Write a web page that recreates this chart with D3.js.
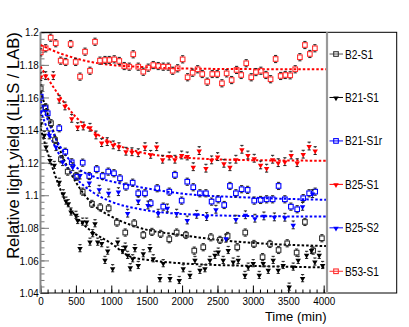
<!DOCTYPE html>
<html><head><meta charset="utf-8">
<script src="https://cdn.jsdelivr.net/npm/d3@7"></script>
<style>
html,body{margin:0;padding:0;background:#fff;}
svg text{font-family:'Liberation Sans',Arial,sans-serif;}
</style></head>
<body><svg id="c" width="409" height="327"></svg>
<script>
// ---- data (time in min, relative light yield) ----
const seriesNames = ["B2-S1","B21-S1","B21-S1r","B25-S1","B25-S2","B53-S1"];
const b2s1 = [[3,1.1656],[73,1.154],[148,1.1442],[205,1.1339],[289,1.1221],[384,1.1145],[501,1.1118],[596,1.1022],[727,1.0947],[844,1.0926],[963,1.092],[1080,1.0832],[1197,1.0771],[1324,1.0828],[1452,1.0756],[1574,1.0775],[1697,1.0763],[1819,1.073],[1923,1.0771],[2054,1.0756],[2172,1.066],[2299,1.0681],[2407,1.0742],[2535,1.0726],[2643,1.075],[2779,1.0681],[2892,1.0771],[3015,1.0701],[3137,1.062],[3241,1.0701],[3363,1.0664],[3485,1.0705],[3618,1.0648],[3735,1.0836],[3852,1.066],[3975,1.0736]];
const b21s1 = [[3,1.1442],[54,1.137],[78,1.1298],[134,1.1216],[195,1.1186],[265,1.1083],[322,1.1012],[360,1.0967],[393,1.0951],[431,1.09],[501,1.088],[525,1.0848],[558,1.0675],[596,1.0838],[652,1.0838],[699,1.0715],[737,1.0767],[770,1.0828],[808,1.0715],[864,1.0706],[911,1.0603],[949,1.066],[1019,1.0552],[1090,1.0715],[1161,1.0664],[1197,1.0685],[1231,1.0634],[1268,1.0558],[1302,1.0613],[1334,1.0675],[1381,1.0572],[1452,1.0644],[1546,1.0675],[1593,1.0613],[1687,1.0491],[1734,1.0583],[1829,1.0491],[1960,1.048],[2016,1.0552],[2111,1.0511],[2182,1.0603],[2252,1.0542],[2323,1.0552],[2393,1.0603],[2464,1.0634],[2511,1.0654],[2581,1.0603],[2652,1.0664],[2722,1.0593],[2793,1.0603],[2888,1.0511],[2934,1.0562],[3005,1.0583],[3090,1.0511],[3146,1.0583],[3217,1.0542],[3287,1.0603],[3358,1.0542],[3428,1.0572],[3513,1.0439],[3570,1.0562],[3640,1.0603],[3702,1.0491],[3759,1.0634],[3829,1.0664],[3876,1.0593],[3937,1.0634],[3985,1.0572]];
const b21s1r = [[3,1.1605],[68,1.1534],[102,1.1503],[265,1.1411],[350,1.1267],[441,1.1202],[520,1.1114],[596,1.12],[689,1.1118],[794,1.116],[878,1.1118],[957,1.1145],[1038,1.1135],[1123,1.1104],[1207,1.1053],[1302,1.1077],[1381,1.1012],[1476,1.1012],[1556,1.0951],[1649,1.1043],[1734,1.093],[1819,1.1022],[1899,1.1125],[1994,1.0967],[2073,1.1083],[2158,1.1049],[2252,1.1012],[2337,1.1012],[2417,1.0961],[2511,1.0975],[2595,1.094],[2676,1.1057],[2760,1.1012],[2841,1.1037],[2926,1.1033],[3019,1.0967],[3109,1.0971],[3194,1.0975],[3279,1.0975],[3363,1.1057],[3452,1.0975],[3537,1.093],[3626,1.0914],[3711,1.0982],[3795,1.1012],[3880,1.1022]];
const b25s1 = [[3,1.1728],[73,1.1734],[181,1.1734],[265,1.1589],[346,1.1548],[441,1.1472],[525,1.1421],[604,1.1425],[699,1.1417],[784,1.137],[864,1.1323],[943,1.1329],[1028,1.1309],[1108,1.1298],[1207,1.127],[1292,1.1267],[1381,1.1261],[1476,1.1298],[1556,1.1251],[1641,1.1298],[1725,1.1221],[1819,1.1241],[1899,1.1221],[1994,1.1247],[2073,1.1241],[2158,1.1175],[2242,1.1274],[2337,1.1166],[2417,1.1217],[2502,1.1237],[2591,1.1196],[2676,1.1175],[2760,1.1221],[2845,1.1282],[2930,1.1247],[3019,1.1227],[3109,1.1186],[3194,1.1166],[3279,1.1221],[3358,1.12],[3452,1.1206],[3541,1.1247],[3626,1.12],[3711,1.1252],[3795,1.1302],[3880,1.1274]];
const b25s2 = [[3,1.1513],[124,1.137],[219,1.1298],[313,1.1206],[455,1.1175],[558,1.1124],[689,1.1077],[830,1.1037],[963,1.1014],[1101,1.1022],[1231,1.089],[1381,1.0967],[1518,1.094],[1663,1.089],[1793,1.0922],[1923,1.089],[2073,1.0848],[2206,1.0883],[2347,1.0869],[2478,1.0914],[2619,1.0736],[2760,1.0853],[2895,1.088],[3029,1.0859],[3156,1.0873],[3304,1.0867],[3452,1.0865],[3570,1.0818],[3702,1.0932],[3843,1.101]];
const b53s1 = [[3,1.1877],[73,1.1902],[144,1.1967],[215,1.1933],[285,1.1826],[356,1.1818],[426,1.1928],[497,1.1818],[558,1.1728],[629,1.1881],[699,1.1764],[770,1.1942],[840,1.1826],[911,1.183],[971,1.183],[1042,1.1834],[1113,1.1824],[1183,1.1793],[1254,1.1789],[1310,1.1865],[1381,1.1789],[1452,1.1758],[1522,1.1783],[1593,1.1799],[1663,1.1793],[1734,1.1789],[1805,1.1789],[1867,1.1764],[1937,1.1779],[2008,1.1834],[2078,1.1724],[2149,1.1752],[2220,1.1773],[2285,1.1744],[2355,1.1697],[2426,1.1744],[2496,1.1744],[2563,1.1687],[2629,1.1748],[2700,1.1707],[2770,1.1769],[2835,1.1738],[2906,1.181],[2977,1.1724],[3043,1.1756],[3113,1.1764],[3184,1.1738],[3250,1.1712],[3321,1.1836],[3392,1.1732],[3457,1.1738],[3527,1.1736],[3598,1.1773],[3664,1.1847],[3735,1.1922],[3805,1.1867],[3876,1.1902]];
// fitted curves
const fitB2s1 = [[0,1.164],[150,1.1435],[300,1.125],[500,1.108],[750,1.094],[1000,1.087],[1400,1.080],[2000,1.0755],[2700,1.0718],[3300,1.070],[4040,1.0688]];
const fitB21s1 = [[0,1.141],[150,1.1195],[336,1.098],[500,1.087],[750,1.077],[1000,1.0705],[1260,1.0625],[1600,1.0598],[2000,1.0582],[3000,1.0566],[4040,1.0557]];
const fitB21s1r = [[0,1.158],[250,1.132],[500,1.1175],[750,1.1115],[1000,1.1085],[1400,1.105],[2000,1.101],[3000,1.0985],[4040,1.0972]];
const fitB25s1 = [[0,1.179],[250,1.162],[500,1.148],[750,1.139],[1000,1.1325],[1400,1.1265],[2000,1.1232],[3000,1.1215],[4040,1.1212]];
const fitB25s2 = [[0,1.152],[150,1.135],[300,1.1223],[500,1.1105],[750,1.1015],[1000,1.096],[1400,1.0915],[2000,1.0885],[3000,1.0872],[4040,1.0869]];
const fitB53s1 = [[0,1.1922],[250,1.1875],[500,1.184],[750,1.1815],[1000,1.180],[1400,1.1788],[2000,1.1778],[3000,1.1774],[4040,1.1773]];
const errHalf = [0.0022,0.0022,0.0022,0.0024,0.0024,0.0022];
const yTicks = [1.04,1.06,1.08,1.1,1.12,1.14,1.16,1.18,1.2];
const xTicks = [0,500,1000,1500,2000,2500,3000,3500,4000];
const xTitle = "Time (min)";
const yTitle = "Relative light yield (LiLS / LAB)";

// ---- drawing ----
const svg = d3.select("#c");
const L=40.5, R=326.5, T=32.3, B=293;
const x = d3.scaleLinear().domain([0,4040]).range([L,R]);
const y = d3.scaleLinear().domain([1.04,1.2]).range([B,T]);

const series = [
 {name:seriesNames[0], data:b2s1, fit:fitB2s1, color:"#333333", line:"#000000", marker:"square", err:errHalf[0]},
 {name:seriesNames[1], data:b21s1, fit:fitB21s1, color:"#000000", line:"#000000", marker:"tri", err:errHalf[1]},
 {name:seriesNames[2], data:b21s1r, fit:fitB21s1r, color:"#0000ff", line:"#0000ff", marker:"square", err:errHalf[2]},
 {name:seriesNames[3], data:b25s1, fit:fitB25s1, color:"#ff0000", line:"#ff0000", marker:"tri", err:errHalf[3]},
 {name:seriesNames[4], data:b25s2, fit:fitB25s2, color:"#0000ff", line:"#0000ff", marker:"tri", err:errHalf[4]},
 {name:seriesNames[5], data:b53s1, fit:fitB53s1, color:"#ff3030", line:"#ff0000", marker:"square", err:errHalf[5]}
];

// minor ticks
const xMinor = d3.range(0,4001,100);
const yMinor = d3.range(0,41).map(i=>+(1.04+i*0.004).toFixed(3));

const gx = svg.append("g").attr("transform",`translate(0,${B})`);
gx.call(d3.axisBottom(x).tickValues(xMinor).tickSize(-3.5).tickFormat(""));
gx.selectAll(".tick line").attr("stroke","#000");
const gx2 = svg.append("g").attr("transform",`translate(0,${B})`)
  .call(d3.axisBottom(x).tickValues(xTicks).tickSize(-7.5).tickPadding(4).tickFormat(d3.format("d")));
gx2.selectAll("text").attr("font-size","11.5px").attr("fill","#000").attr("transform","scale(0.86,1)");
svg.selectAll(".domain").remove();

const gy = svg.append("g").attr("transform",`translate(${L},0)`);
gy.call(d3.axisLeft(y).tickValues(yMinor).tickSize(-4).tickFormat(""));
gy.selectAll(".tick line").attr("stroke","#777");
const gy2 = svg.append("g").attr("transform",`translate(${L},0)`)
  .call(d3.axisLeft(y).tickValues(yTicks).tickSize(-8.5).tickPadding(2).tickFormat(v=>String(+v.toFixed(2))));
gy2.selectAll(".tick line").attr("stroke","#777");
gy2.selectAll("text").attr("font-size","11.5px").attr("fill","#000").attr("transform","scale(0.86,1)");
svg.selectAll(".domain").remove();

// frame
svg.append("line").attr("x1",L).attr("x2",R).attr("y1",B).attr("y2",B).attr("stroke","#000").attr("stroke-width",1.2);
svg.append("line").attr("x1",L).attr("x2",R).attr("y1",T).attr("y2",T).attr("stroke","#000").attr("stroke-width",1.2);
svg.append("line").attr("x1",L).attr("x2",L).attr("y1",T).attr("y2",B).attr("stroke","#888").attr("stroke-width",2);

// fits
svg.append("clipPath").attr("id","pc").append("rect").attr("x",L).attr("y",T).attr("width",R-L).attr("height",B-T);
const line = d3.line().x(d=>x(d[0])).y(d=>y(d[1])).curve(d3.curveMonotoneX);
const plot = svg.append("g").attr("clip-path","url(#pc)");
series.forEach(s=>{
  plot.append("path").attr("d",line(s.fit)).attr("fill","none").attr("stroke",s.line)
    .attr("stroke-width",2).attr("stroke-dasharray","2.5,2");
});

const triPath = d3.symbol().type(d3.symbolTriangle).size(13)();
function drawMarker(g,s,cx,cy){
  if(s.marker==="square"){
    g.append("rect").attr("x",cx-2.3).attr("y",cy-2.3).attr("width",4.6).attr("height",4.6)
      .attr("fill","none").attr("stroke",s.color).attr("stroke-width",1.1);
  } else {
    g.append("path").attr("d",triPath).attr("transform",`translate(${cx},${cy+0.5}) rotate(180)`)
      .attr("fill",s.color);
  }
}
// points with error bars
series.forEach(s=>{
  const g = plot.append("g");
  s.data.forEach(d=>{
    const cx=x(d[0]), cy=y(d[1]);
    const yt=y(d[1]+s.err), yb=y(d[1]-s.err);
    const eb = g.append("g").attr("stroke","#222").attr("stroke-width",1);
    eb.append("line").attr("x1",cx).attr("x2",cx).attr("y1",yt).attr("y2",cy-2.6);
    eb.append("line").attr("x1",cx).attr("x2",cx).attr("y1",cy+2.6).attr("y2",yb);
    eb.append("line").attr("x1",cx-1.6).attr("x2",cx+1.6).attr("y1",yt).attr("y2",yt);
    eb.append("line").attr("x1",cx-1.6).attr("x2",cx+1.6).attr("y1",yb).attr("y2",yb);
    drawMarker(g,s,cx,cy);
  });
});

// titles
svg.append("text").attr("x",R).attr("y",321).attr("text-anchor","end").attr("font-size","13px").text(xTitle);
svg.append("text").attr("transform",`translate(19,${T}) rotate(-90)`).attr("text-anchor","end")
  .attr("font-size","16.5px").text(yTitle);

// legend
const LX0=327, LX1=396.7;
const lg = svg.append("g");
lg.append("rect").attr("x",LX0).attr("y",T).attr("width",LX1-LX0).attr("height",B-T).attr("fill","#fff").attr("stroke","#000").attr("stroke-width",1);
lg.append("line").attr("x1",LX0).attr("x2",LX0).attr("y1",T).attr("y2",B+0.5).attr("stroke","#999").attr("stroke-width",2.2);
const rowH=(B-T)/series.length;
series.forEach((s,i)=>{
  const cy=T+rowH*(i+0.5);
  const legendLine = i===0 ? "#555" : s.color;
  lg.append("line").attr("x1",329.5).attr("x2",343).attr("y1",cy).attr("y2",cy).attr("stroke",legendLine).attr("stroke-width",1);
  drawMarker(lg,s,336,cy);
  lg.append("text").attr("transform",`translate(345,${cy+4.5}) scale(0.78,1)`).attr("font-size","13px").text(s.name);
});
</script></body></html>
